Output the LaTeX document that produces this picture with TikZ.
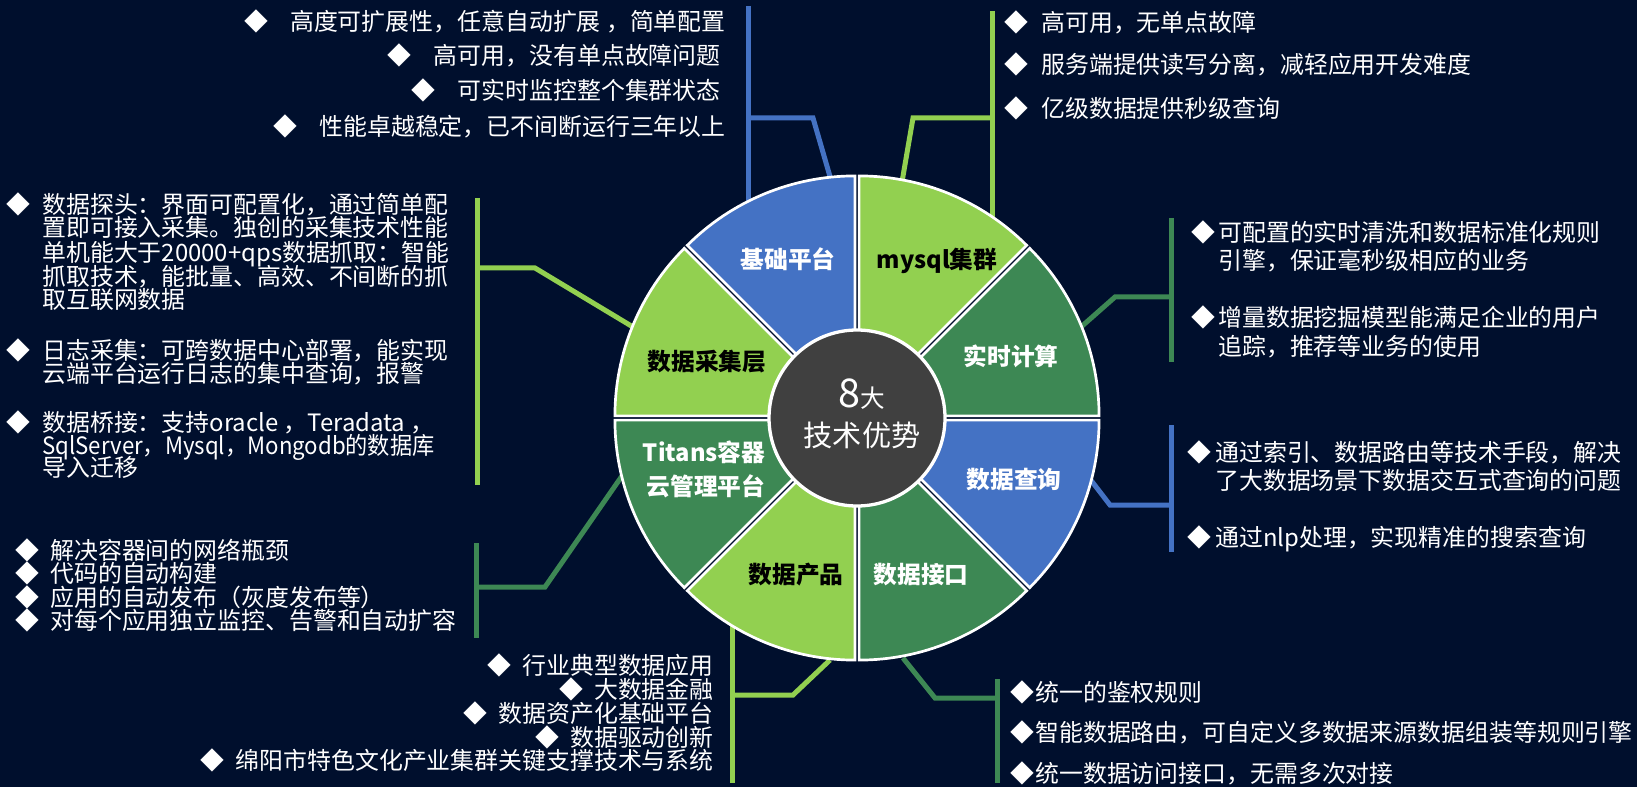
\documentclass[tikz,border=0pt]{standalone}
\usepackage{graphicx}
\usepackage{fontspec}
\setmainfont{Noto Sans CJK SC}
\definecolor{bgnavy}{HTML}{000F2D}
\definecolor{oblue}{HTML}{4472C4}
\definecolor{lgreen}{HTML}{92D050}
\definecolor{dgreen}{HTML}{3D8854}
\definecolor{coregray}{HTML}{404040}
\newlength\pxu
\setlength\pxu{0.02cm}
\newcommand\bul[1]{\llap{\makebox[0pt]{◆}\hspace{#1\pxu}}}

\begin{document}
\begin{tikzpicture}[x=0.02cm,y=0.02cm,
  txt/.style={text=white,inner sep=0pt,font=\fontsize{13.6}{13.6}\selectfont},
  seclab/.style={inner sep=0pt,text height=0.42cm,text depth=0.06cm,font=\bfseries\fontsize{13.5}{13.5}\selectfont},
  sector/.style={draw=white,line width=0.054cm},
  link/.style={line width=0.1cm,line join=miter}]
\useasboundingbox (0,0) rectangle (1637,-787);
\fill[bgnavy] (0,0) rectangle (1637,-787);
\coordinate (ctr) at (857,-418);

% connectors
\coordinate (jc-t) at (748,-6);
\coordinate (jc-b) at (748,-203);
\coordinate (jc-m) at (748,-118);
\coordinate (jc-k) at (813,-118);
\coordinate (jc-e) at (831,-180);
\draw[link,oblue] (jc-t) -- (jc-b);
\draw[link,oblue] (jc-m) -- (jc-k) -- (jc-e);
\coordinate (my-t) at (992,-11);
\coordinate (my-b) at (992,-218);
\coordinate (my-m) at (992,-118);
\coordinate (my-k) at (913,-118);
\coordinate (my-e) at (902,-182);
\draw[link,lgreen] (my-t) -- (my-b);
\draw[link,lgreen] (my-m) -- (my-k) -- (my-e);
\coordinate (ss-t) at (1171,-218);
\coordinate (ss-b) at (1171,-362);
\coordinate (ss-m) at (1171,-297);
\coordinate (ss-k) at (1115,-297);
\coordinate (ss-e) at (1081,-327);
\draw[link,dgreen] (ss-t) -- (ss-b);
\draw[link,dgreen] (ss-m) -- (ss-k) -- (ss-e);
\coordinate (cx-t) at (1171,-425);
\coordinate (cx-b) at (1171,-552);
\coordinate (cx-m) at (1171,-505);
\coordinate (cx-k) at (1110,-505);
\coordinate (cx-e) at (1090,-479);
\draw[link,oblue] (cx-t) -- (cx-b);
\draw[link,oblue] (cx-m) -- (cx-k) -- (cx-e);
\coordinate (jk-t) at (997,-679);
\coordinate (jk-b) at (997,-783);
\coordinate (jk-m) at (997,-698);
\coordinate (jk-k) at (935,-698);
\coordinate (jk-e) at (903,-658);
\draw[link,dgreen] (jk-t) -- (jk-b);
\draw[link,dgreen] (jk-m) -- (jk-k) -- (jk-e);
\coordinate (cp-t) at (732,-622);
\coordinate (cp-b) at (732,-783);
\coordinate (cp-m) at (732,-695);
\coordinate (cp-k) at (793,-695);
\coordinate (cp-e) at (830,-660);
\draw[link,lgreen] (cp-t) -- (cp-b);
\draw[link,lgreen] (cp-m) -- (cp-k) -- (cp-e);
\coordinate (tt-t) at (476,-543);
\coordinate (tt-b) at (476,-638);
\coordinate (tt-m) at (476,-587);
\coordinate (tt-k) at (545,-587);
\coordinate (tt-e) at (624,-473);
\draw[link,dgreen] (tt-t) -- (tt-b);
\draw[link,dgreen] (tt-m) -- (tt-k) -- (tt-e);
\coordinate (cj-t) at (477,-198);
\coordinate (cj-b) at (477,-485);
\coordinate (cj-m) at (477,-268);
\coordinate (cj-k) at (535,-268);
\coordinate (cj-e) at (633,-327);
\draw[link,lgreen] (cj-t) -- (cj-b);
\draw[link,lgreen] (cj-m) -- (cj-k) -- (cj-e);

% wheel
\foreach \a/\c in {0/dgreen,45/lgreen,90/oblue,135/lgreen,180/dgreen,225/lgreen,270/dgreen,315/oblue}
  \filldraw[sector,fill=\c] ([shift={({\a+22.5}:5.5)}]ctr) -- ++(\a:237) arc[start angle=\a,end angle=\a+45,radius=237] -- cycle;
\filldraw[draw=white,fill=coregray,line width=0.066cm] (ctr) circle[radius=88];
\node[text=white,inner sep=0pt,anchor=base] (core8) at (862,-407) {\fontsize{22.5}{22.5}\selectfont 8\fontsize{14}{14}\selectfont 大};
\node[text=white,inner sep=0pt,anchor=base] (coretxt) at (862,-446) {\fontsize{16.6}{16.6}\selectfont 技术优势};

\node[seclab,text=white] (jcpt) at (788,-260) {基础平台};
\node[seclab,text=black] (mysql) at (937,-260) {mysql集群};
\node[seclab,text=white] (sssj) at (1011,-357) {实时计算};
\node[seclab,text=white] (sjcx) at (1014,-480) {数据查询};
\node[seclab,text=white] (sjjk) at (921,-574) {数据接口};
\node[seclab,text=black] (sjcp) at (796,-574) {数据产品};
\node[seclab,text=white] (titans1) at (704,-452) {Titans容器};
\node[seclab,text=white] (titans2) at (706,-487) {云管理平台};
\node[seclab,text=black] (sjcj) at (707,-362) {数据采集层};

% 基础平台
\node[txt,anchor=base east] (jc1) at (726,-31) {\bul{34}高度可扩展性，任意自动扩展 ，简单配置};
\node[txt,anchor=base east] (jc2) at (721,-65) {\bul{34}高可用，没有单点故障问题};
\node[txt,anchor=base east] (jc3) at (721,-100) {\bul{34}可实时监控整个集群状态};
\node[txt,anchor=base east] (jc4) at (726,-136) {\bul{34}性能卓越稳定，已不间断运行三年以上};
% mysql集群
\node[txt,anchor=base west] (my1) at (1041,-32) {\bul{25}高可用，无单点故障};
\node[txt,anchor=base west] (my2) at (1041,-74) {\bul{25}服务端提供读写分离，减轻应用开发难度};
\node[txt,anchor=base west] (my3) at (1041,-118) {\bul{25}亿级数据提供秒级查询};
% 实时计算
\node[txt,anchor=base west] (ss1) at (1218,-242) {\bul{15}可配置的实时清洗和数据标准化规则};
\node[txt,anchor=base west] (ss2) at (1218,-270) {引擎，保证毫秒级相应的业务};
\node[txt,anchor=base west] (ss3) at (1218,-327) {\bul{15}增量数据挖掘模型能满足企业的用户};
\node[txt,anchor=base west] (ss4) at (1218,-356) {追踪，推荐等业务的使用};
% 数据查询
\node[txt,anchor=base west] (cx1) at (1215,-461) {\bul{16}通过索引、数据路由等技术手段，解决};
\node[txt,anchor=base west] (cx2) at (1215,-489) {了大数据场景下数据交互式查询的问题};
\node[txt,anchor=base west] (cx3) at (1215,-546) {\bul{16}通过nlp处理，实现精准的搜索查询};
% 数据接口
\node[txt,anchor=base west] (jk1) at (1035,-701) {\bul{13}统一的鉴权规则};
\node[txt,anchor=base west] (jk2) at (1035,-741) {\bul{13}智能数据路由，可自定义多数据来源数据组装等规则引擎};
\node[txt,anchor=base west] (jk3) at (1035,-782) {\bul{13}统一数据访问接口，无需多次对接};
% 数据产品
\node[txt,anchor=base east] (cp1) at (714,-674) {\bul{23}行业典型数据应用};
\node[txt,anchor=base east] (cp2) at (714,-698) {\bul{23}大数据金融};
\node[txt,anchor=base east] (cp3) at (714,-722) {\bul{23}数据资产化基础平台};
\node[txt,anchor=base east] (cp4) at (714,-746) {\bul{23}数据驱动创新};
\node[txt,anchor=base east] (cp5) at (714,-769) {\bul{23}绵阳市特色文化产业集群关键支撑技术与系统};
% Titans容器云管理平台
\node[txt,anchor=base west] (tt1) at (50,-559) {\bul{23}解决容器间的网络瓶颈};
\node[txt,anchor=base west] (tt2) at (50,-582) {\bul{23}代码的自动构建};
\node[txt,anchor=base west] (tt3) at (50,-606) {\bul{23}应用的自动发布（灰度发布等）};
\node[txt,anchor=base west] (tt4) at (50,-629) {\bul{23}对每个应用独立监控、告警和自动扩容};
% 数据采集层
\node[txt,anchor=base west] (cj1) at (42,-214) {\bul{24}数据探头：界面可配置化，通过简单配};
\node[txt,anchor=base west] (cj2) at (42,-237) {置即可接入采集。独创的采集技术性能};
\node[txt,anchor=base west] (cj3) at (42,-262) {单机能大于20000+qps数据抓取：智能};
\node[txt,anchor=base west] (cj4) at (42,-286) {抓取技术，能批量、高效、不间断的抓};
\node[txt,anchor=base west] (cj5) at (42,-309) {取互联网数据};
\node[txt,anchor=base west] (cj6) at (42,-359) {\bul{24}日志采集：可跨数据中心部署，能实现};
\node[txt,anchor=base west] (cj7) at (42,-382) {云端平台运行日志的集中查询，报警};
\node[txt,anchor=base west] (cj8) at (42,-431) {\bul{24}数据桥接：支持oracle ，Teradata ，};
\node[txt,anchor=base west] (cj9) at (42,-454) {\scalebox{0.93}[1]{SqlServer，Mysql，Mongodb的数据库}};
\node[txt,anchor=base west] (cj10) at (42,-476) {导入迁移};
\end{tikzpicture}
\end{document}
